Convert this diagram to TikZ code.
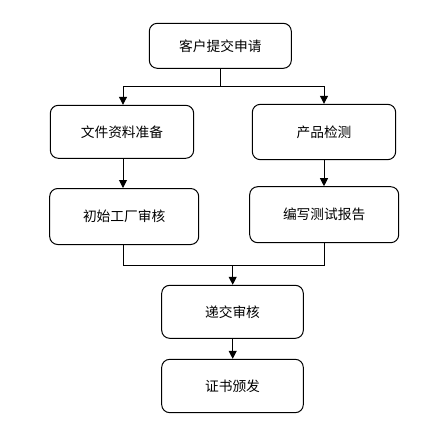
\documentclass[tikz,border=0pt]{standalone}
\usepackage{fontspec}
\newfontfamily\cjk{Noto Sans CJK SC}
\usepackage{tikz}
\usetikzlibrary{arrows.meta}

\tikzset{
  stepbox/.style={draw, line width=0.75pt, rounded corners=6pt, align=center,
    font=\cjk\fontsize{10.3}{12}\selectfont, inner sep=0.75pt},
  flow/.style={line width=0.75pt, -{Triangle[length=6pt,width=6pt]}},
  link/.style={line width=0.75pt}
}

\begin{document}
\begin{tikzpicture}[x=0.75pt,y=0.75pt,yscale=-1,xscale=1]
\useasboundingbox (0,0) rectangle (437,443);
%Rounded Rect
\node [stepbox, minimum width=106.5pt, minimum height=33.75pt] (apply) at (220.3,45.8) {客户提交申请};
%Rounded Rect
\node [stepbox, minimum width=107.5pt, minimum height=39.75pt] (docs) at (122,131.8) {文件资料准备};
%Rounded Rect
\node [stepbox, minimum width=107.5pt, minimum height=41.5pt] (test) at (324,132) {产品检测};
%Rounded Rect
\node [stepbox, minimum width=111.75pt, minimum height=42pt] (audit) at (124.2,216.5) {初始工厂审核};
%Rounded Rect
\node [stepbox, minimum width=111.75pt, minimum height=42pt] (report) at (324.2,214.7) {编写测试报告};
%Rounded Rect
\node [stepbox, minimum width=106.2pt, minimum height=39.75pt] (submit) at (232.5,311.8) {递交审核};
%Rounded Rect
\node [stepbox, minimum width=106.2pt, minimum height=40pt] (issue) at (232.5,386) {证书颁发};
% branch and join points
\coordinate (split) at (220.3,86.7);
\coordinate (join) at (232.7,265);
%Straight Lines
\draw [link] (apply.south) -- (split);
\draw [flow] (split) -| ([xshift=0.75pt]docs.north);
\draw [flow] (split) -| (test.north);
%Straight Lines
\draw [flow] ([xshift=0.75pt]docs.south) -- ([xshift=0.75pt]docs.south |- audit.north);
\draw [flow] (test.south) -- (test.south |- report.north);
%Straight Lines
\draw [link] ([xshift=-0.4pt]audit.south) |- (join);
\draw [link] (report.south) |- (join);
\draw [flow] (join) -- (join |- submit.north);
\draw [flow] (join |- submit.south) -- (join |- issue.north);
\end{tikzpicture}
\end{document}
